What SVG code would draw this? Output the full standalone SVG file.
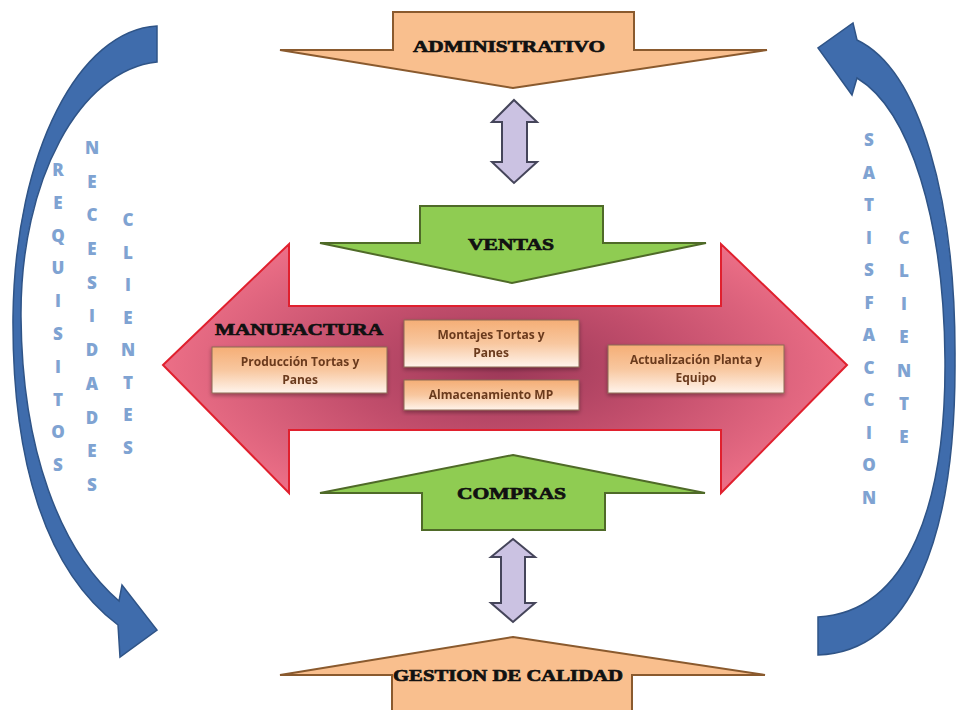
<svg xmlns="http://www.w3.org/2000/svg" width="956" height="710" viewBox="0 0 956 710">
  <style>
    .orange { fill: #f9bf8e; stroke: #8a5a2e; stroke-width: 2; stroke-linejoin: miter; }
    .green { fill: #8fcc52; stroke: #4f6a28; stroke-width: 2; }
    .lilac { fill: #cbc2e2; stroke: #45455a; stroke-width: 2; stroke-linejoin: miter; }
    .bend { fill: #3f6cac; stroke: #2f5487; stroke-width: 1.5; stroke-linejoin: miter; }
    .title { font-family: "Liberation Serif", "DejaVu Serif", serif; font-weight: 900; font-size: 17px; fill: #111; stroke: #111; stroke-width: 0.7; }
    .box { fill: url(#boxFill); stroke: #8c6a55; stroke-width: 1; }
    .boxText { font-family: "Open Sans", "Liberation Sans", sans-serif; font-weight: 700; font-size: 12px; fill: #6b3a1e; text-anchor: middle; }
    .vert { font-family: "Open Sans", "Liberation Sans", sans-serif; font-weight: 800; font-size: 17px; fill: #7fa3d2; text-anchor: middle; }
  </style>
  <defs>
    <radialGradient id="redFill" gradientUnits="userSpaceOnUse" cx="505" cy="368" r="360" gradientTransform="translate(505 368) scale(1 0.45) translate(-505 -368)">
      <stop offset="0" stop-color="#9c3858"/>
      <stop offset="0.45" stop-color="#c24e6c"/>
      <stop offset="1" stop-color="#f07289"/>
    </radialGradient>
    <linearGradient id="boxFill" x1="0" y1="0" x2="0" y2="1">
      <stop offset="0" stop-color="#f5ae76"/>
      <stop offset="0.5" stop-color="#f8c79f"/>
      <stop offset="1" stop-color="#fff4ec"/>
    </linearGradient>
    <filter id="soft" x="-10%" y="-10%" width="120%" height="130%">
      <feGaussianBlur in="SourceAlpha" stdDeviation="2"/>
      <feOffset dy="2"/>
      <feComponentTransfer><feFuncA type="linear" slope="0.35"/></feComponentTransfer>
      <feMerge><feMergeNode/><feMergeNode in="SourceGraphic"/></feMerge>
    </filter>
  </defs>

  <rect width="956" height="710" fill="#ffffff"/>

  <!-- central manufacturing double arrow -->
  <g id="manufactura">
    <polygon points="163,365 289,244 289,306 721,306 721,244 847,365 721,493 721,430 289,430 289,493" fill="url(#redFill)" stroke="#e0202e" stroke-width="2"/>
    <text class="title" x="215" y="335" textLength="168" lengthAdjust="spacingAndGlyphs">MANUFACTURA</text>
  </g>

  <!-- activity boxes -->
  <g id="produccion" filter="url(#soft)">
    <rect class="box" x="212" y="347" width="175" height="46"/>
    <text class="boxText" x="300" y="366">Producción Tortas y</text>
    <text class="boxText" x="300" y="384">Panes</text>
  </g>

  <g id="montajes" filter="url(#soft)">
    <rect class="box" x="404" y="320" width="175" height="47"/>
    <text class="boxText" x="491" y="339">Montajes Tortas y</text>
    <text class="boxText" x="491" y="357">Panes</text>
  </g>

  <g id="almacenamiento" filter="url(#soft)">
    <rect class="box" x="404" y="380" width="175" height="30"/>
    <text class="boxText" x="491" y="399">Almacenamiento MP</text>
  </g>

  <g id="actualizacion" filter="url(#soft)">
    <rect class="box" x="608" y="345" width="176" height="48"/>
    <text class="boxText" x="696" y="364">Actualización Planta y</text>
    <text class="boxText" x="696" y="382">Equipo</text>
  </g>

  <!-- department arrows -->
  <g id="administrativo">
    <polygon class="orange" points="393,12 634,12 634,50 767,50 513,88 280,50 393,50"/>
    <text class="title" x="413" y="52" textLength="192" lengthAdjust="spacingAndGlyphs">ADMINISTRATIVO</text>
  </g>

  <g id="ventas">
    <polygon class="green" points="420,206 603,206 603,243 706,243 512,283 320,243 420,243"/>
    <text class="title" x="468" y="250" textLength="86" lengthAdjust="spacingAndGlyphs">VENTAS</text>
  </g>

  <g id="compras">
    <polygon class="green" points="513,455 705,493 605,493 605,530 422,530 422,493 320,493"/>
    <text class="title" x="457" y="499" textLength="109" lengthAdjust="spacingAndGlyphs">COMPRAS</text>
  </g>

  <g id="gestion">
    <polygon class="orange" points="513,637 765,675 632,675 632,714 392,714 392,675 280,675"/>
    <text class="title" x="393" y="681" textLength="230" lengthAdjust="spacingAndGlyphs">GESTION DE CALIDAD</text>
  </g>

  <!-- connectors: two-way links and the customer loop -->
  <g id="connectors">
    <polygon class="lilac" points="514,100 537,122 527,122 527,162 537,162 514,183 492,162 502,162 502,122 492,122"/>
    <polygon class="lilac" points="513,539 535,557 525,557 525,603 535,603 513,622 491,603 501,603 501,557 491,557"/>
    <path class="bend" d="M157,26 C80,30 15,150 13,317 C12,460 45,570 118,625 L120,657 L157,630 L122,585 L119,601 C60,550 22,450 21,317 C20,180 80,70 157,62 Z"/>
    <path class="bend" d="M818,617 C910,612 946,500 945,360 C944,220 910,110 857,78 L852,95 L818,48 L853,23 L857,40 C920,70 956,200 955,360 C956,540 910,652 818,655 Z"/>
  </g>

  <!-- vertical captions -->
  <g id="captions">
    <text class="vert" x="58 58 58 58 58 58 58 58 58 58" y="176 209 242 274 307 340 373 406 438 471">REQUISITOS</text>
    <text class="vert" x="92 92 92 92 92 92 92 92 92 92 92" y="154 188 221 255 289 322 356 390 424 457 491">NECESIDADES</text>
    <text class="vert" x="128 128 128 128 128 128 128 128" y="226 259 291 324 356 389 421 454">CLIENTES</text>
    <text class="vert" x="869 869 869 869 869 869 869 869 869 869 869 869" y="146 179 211 244 276 309 341 374 406 439 471 504">SATISFACCION</text>
    <text class="vert" x="904 904 904 904 904 904 904" y="244 277 310 343 377 410 443">CLIENTE</text>
  </g>
</svg>
